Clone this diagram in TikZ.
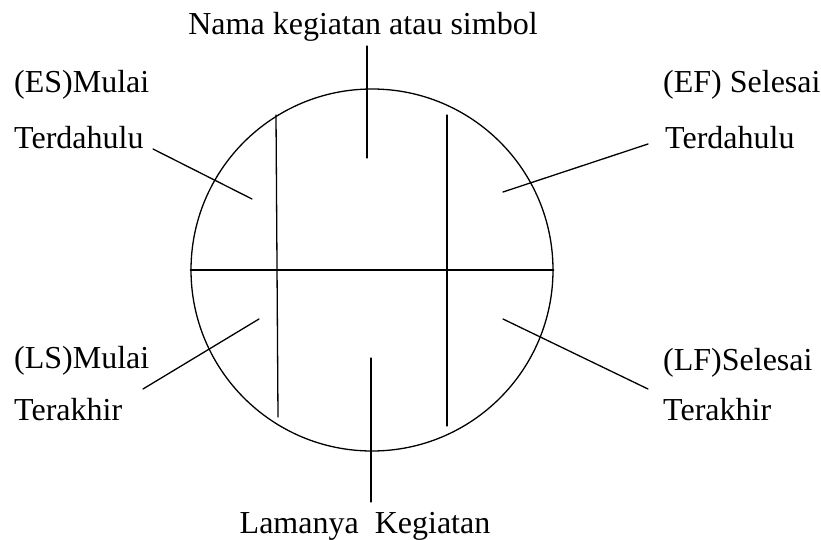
\documentclass[tikz,border=0pt]{standalone}
\usepackage{fontspec}
\setmainfont{Liberation Serif}
\begin{document}
\begin{tikzpicture}[x=1pt,y=-1pt,
  lbl/.style={inner sep=0pt,font=\fontsize{32}{36}\selectfont},
  ln/.style={line width=1.3pt,line cap=round}]
\useasboundingbox (0,0) rectangle (821,540);
% circle
\node[draw,line width=1.3pt,circle,minimum size=362pt,inner sep=0pt] (c) at (372,270) {};
\draw[ln] (c.west) -- (c.east);
% vertical dividers
\coordinate (l1) at (276,115); \coordinate (l2) at (278,417);
\coordinate (r1) at (447,115); \coordinate (r2) at (447,426);
\draw[ln] (l1) -- (l2);
\draw[ln] (r1) -- (r2);
% labels
\node[lbl,anchor=base] (top) at (363,35) {Nama kegiatan atau simbol};
\node[lbl,anchor=base] (bot) at (365,533) {Lamanya\ \ Kegiatan};
\node[lbl,anchor=base west] (es1) at (14,93) {(ES)Mulai};
\node[lbl,anchor=base west] (es2) at (14,149) {Terdahulu};
\node[lbl,anchor=base west] (ef1) at (663,93) {(EF) Selesai};
\node[lbl,anchor=base west] (ef2) at (665,149) {Terdahulu};
\node[lbl,anchor=base west] (ls1) at (14,368) {(LS)Mulai};
\node[lbl,anchor=base west] (ls2) at (14,420) {Terakhir};
\node[lbl,anchor=base west] (lf1) at (663,370) {(LF)Selesai};
\node[lbl,anchor=base west] (lf2) at (663,420) {Terakhir};
% leader coordinates
\coordinate (t1) at (367,46); \coordinate (t2) at (367,158);
\coordinate (b1) at (371,358); \coordinate (b2) at (371,502);
\coordinate (esA) at (153,149); \coordinate (esB) at (252,199);
\coordinate (efA) at (648,144); \coordinate (efB) at (503,192);
\coordinate (lsA) at (143,389); \coordinate (lsB) at (259,319);
\coordinate (lfA) at (648,389); \coordinate (lfB) at (503,319);
\draw[ln] (t1) -- (t2);
\draw[ln] (b1) -- (b2);
\draw[ln] (esA) -- (esB);
\draw[ln] (efA) -- (efB);
\draw[ln] (lsA) -- (lsB);
\draw[ln] (lfA) -- (lfB);
\end{tikzpicture}
\end{document}
